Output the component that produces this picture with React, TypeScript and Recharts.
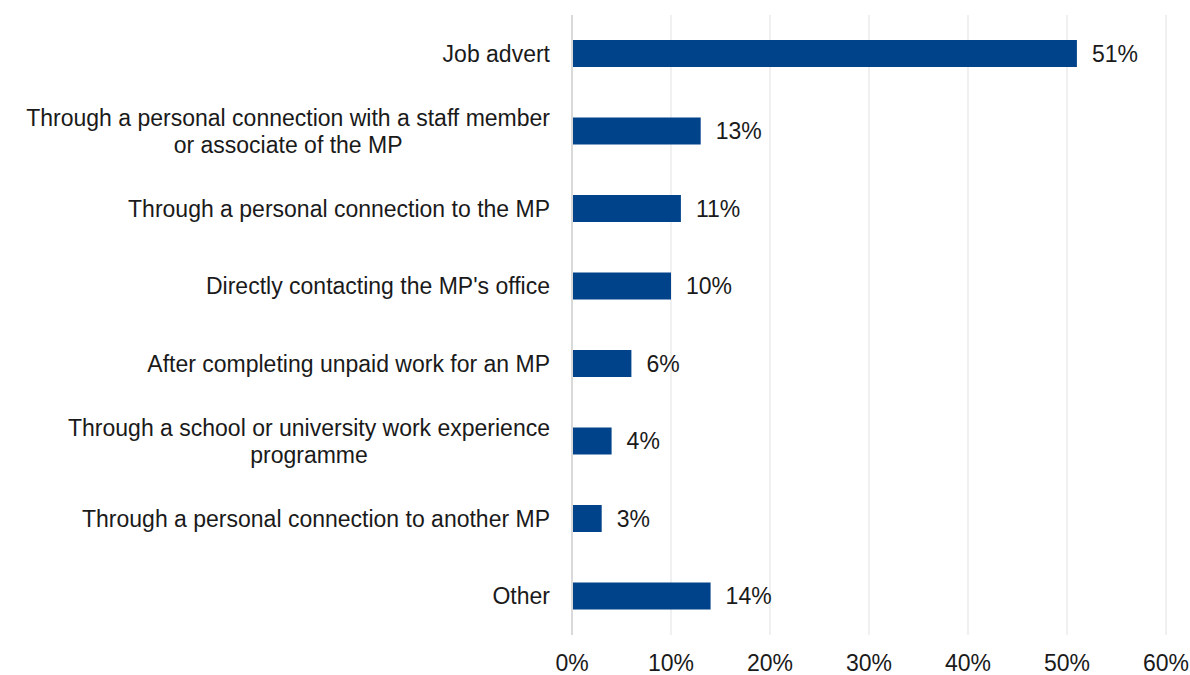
import React from "react";
import { BarChart, Bar, XAxis, YAxis, CartesianGrid, LabelList } from "recharts";

const categories = [
  "Job advert",
  "Through a personal connection with a staff member|or associate of the MP",
  "Through a personal connection to the MP",
  "Directly contacting the MP's office",
  "After completing unpaid work for an MP",
  "Through a school or university work experience|programme",
  "Through a personal connection to another MP",
  "Other",
];
const values = [51, 13, 11, 10, 6, 4, 3, 14];
const xTicks = [0, 10, 20, 30, 40, 50, 60];

const data = categories.map((c, i) => ({ name: c, value: values[i] }));

const FONT = "'Liberation Sans', Arial, sans-serif";
const FS = 23;

let ctx: CanvasRenderingContext2D | null = null;
function measure(t: string): number {
  if (!ctx) {
    const c = document.createElement("canvas");
    ctx = c.getContext("2d");
  }
  if (!ctx) return t.length * 10;
  ctx.font = `${FS}px ${FONT}`;
  return ctx.measureText(t).width;
}

const YTick = (props: any) => {
  const { x, y, payload } = props;
  const lines: string[] = String(payload.value).split("|");
  const rightX = x - 14;
  if (lines.length === 1) {
    return (
      <text x={rightX} y={y} dy="0.35em" textAnchor="end" fontSize={FS} fontFamily={FONT} fill="#1a1a1a">
        {lines[0]}
      </text>
    );
  }
  const maxW = Math.max(...lines.map(measure));
  const cx = rightX - maxW / 2;
  const lh = 27;
  const start = y - ((lines.length - 1) * lh) / 2;
  return (
    <text textAnchor="middle" fontSize={FS} fontFamily={FONT} fill="#1a1a1a">
      {lines.map((l, i) => (
        <tspan key={i} x={cx} y={start + i * lh} dy="0.35em">
          {l}
        </tspan>
      ))}
    </text>
  );
};

export default function App() {
  return (
    <div style={{ position: "absolute", left: 0, top: 0, width: 1190, height: 675, background: "#fff" }}>
      <BarChart
        width={1190}
        height={675}
        data={data}
        layout="vertical"
        margin={{ top: 15, right: 24, bottom: 0, left: 0 }}
        barSize={27}
      >
        <CartesianGrid horizontal={false} stroke="#ebebeb" strokeWidth={1.5} />
        <XAxis
          type="number"
          domain={[0, 60]}
          ticks={xTicks}
          tickFormatter={(v: number) => `${v}%`}
          axisLine={false}
          tickLine={false}
          height={40}
          tick={{ fontSize: FS, fontFamily: FONT, fill: "#1a1a1a", dy: 12 }}
          interval={0}
        />
        <YAxis
          type="category"
          dataKey="name"
          width={572}
          axisLine={{ stroke: "#d9d9d9", strokeWidth: 2 }}
          tickLine={false}
          tick={<YTick />}
          interval={0}
        />
        <Bar dataKey="value" fill="#00438a" isAnimationActive={false}>
          <LabelList
            dataKey="value"
            position="right"
            offset={15}
            formatter={(v: any) => `${v}%`}
            style={{ fontSize: FS, fontFamily: FONT, fill: "#1a1a1a" }}
          />
        </Bar>
      </BarChart>
    </div>
  );
}
